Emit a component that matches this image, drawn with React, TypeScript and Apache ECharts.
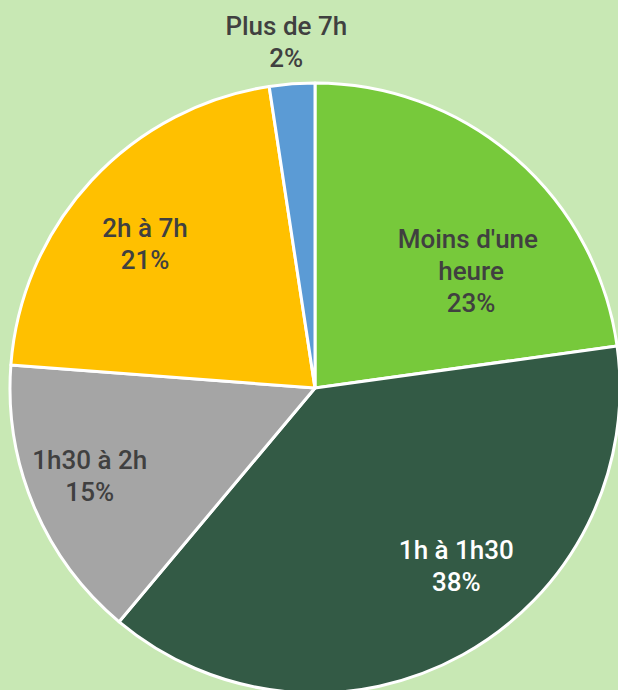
import React, { useEffect, useRef } from "react";
import * as echarts from "echarts";

const categories = ["Moins d'une heure", "1h à 1h30", "1h30 à 2h", "2h à 7h", "Plus de 7h"];
const values = [22.8, 38.3, 15.1, 21.4, 2.4];
const colors = ["#77c93b", "#335a45", "#a5a5a5", "#ffc000", "#5b9bd5"];
const labelColors = ["#404040", "#ffffff", "#404040", "#404040", "#404040"];
const labelOffsets: [number, number][] = [
  [54, 0],
  [66, 42],
  [-82, 28],
  [-56, -38],
  [-17, -191],
];

export default function App() {
  const ref = useRef<HTMLDivElement>(null);
  useEffect(() => {
    if (!ref.current) return;
    const chart = echarts.init(ref.current, undefined, { renderer: "svg" });
    const total = values.reduce((a, b) => a + b, 0);
    chart.setOption({
      animation: false,
      backgroundColor: "#c8e8b4",
      series: [
        {
          type: "pie",
          center: [315, 388],
          radius: 305,
          startAngle: 90,
          clockwise: true,
          avoidLabelOverlap: false,
          label: {
            show: true,
            position: "inside",
            fontFamily: "Roboto",
            fontSize: 26,
            fontWeight: 500,
            lineHeight: 32,
            width: 190,
            overflow: "break",
            align: "center",
            formatter: (p: any) => `${p.name}\n${Math.round((p.value / total) * 100)}%`,
          },
          labelLine: { show: false },
          itemStyle: { borderColor: "#ffffff", borderWidth: 3 },
          emphasis: { disabled: true },
          data: categories.map((name, i) => ({
            name,
            value: values[i],
            itemStyle: { color: colors[i] },
            label: { color: labelColors[i], offset: labelOffsets[i] },
          })),
        },
      ],
    });
    return () => chart.dispose();
  }, []);
  return (
    <div
      ref={ref}
      style={{ position: "absolute", left: 0, top: 0, width: 618, height: 690 }}
    />
  );
}
